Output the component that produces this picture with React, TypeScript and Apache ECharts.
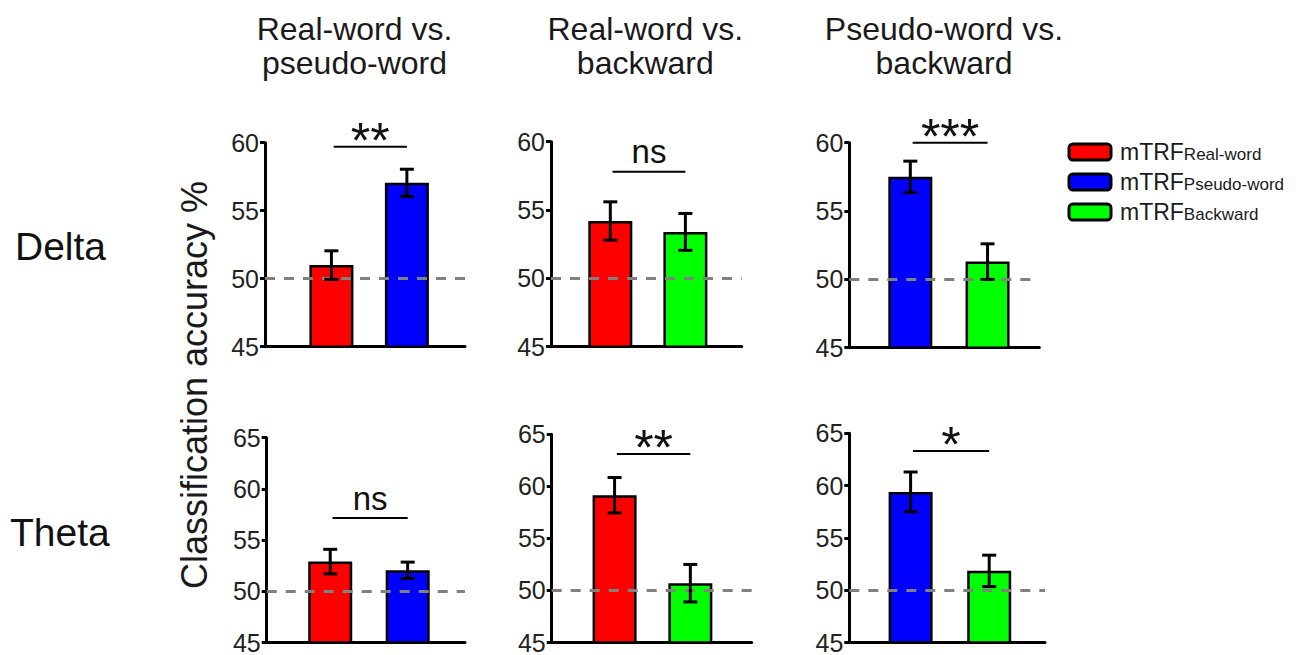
import React, { useEffect, useRef } from 'react';
import * as echarts from 'echarts';

// ---------- data ----------
const conditions = ['Real-word', 'Pseudo-word', 'Backward'];
const conditionColors = ['#ff0000', '#0000ff', '#00ff00'];

const panelTitles = [
  ['Real-word vs.', 'pseudo-word'],
  ['Real-word vs.', 'backward'],
  ['Pseudo-word vs.', 'backward'],
];
const bandNames = ['Delta', 'Theta'];
const yAxisTitle = 'Classification accuracy %';
const yMinValue = 45;
const yMaxByBand = [60, 65];
const yTickStep = 5;
const chanceLevel = 50;

// panel order: Delta (3 contrasts), then Theta (3 contrasts)
const panelConditions = [[0, 1], [0, 2], [1, 2], [0, 1], [0, 2], [1, 2]];
const meanValues = [
  [51.0, 57.05],
  [54.2, 53.4],
  [57.5, 51.3],
  [52.9, 52.05],
  [59.15, 50.7],
  [59.4, 51.85],
];
const semValues = [
  [1.05, 1.0],
  [1.4, 1.35],
  [1.15, 1.3],
  [1.2, 0.8],
  [1.7, 1.8],
  [1.9, 1.5],
];
const sigLabels = ['**', 'ns', '***', 'ns', '**', '*'];
const sigHeights = [59.7, 57.8, 60.0, 57.15, 63.1, 63.3];

// ---------- layout (pixels) ----------
const panelBoxes = [
  { left: 265, top: 142.7, width: 200, height: 204, xMin: -0.88, xMax: 1.77 },
  { left: 551, top: 141.7, width: 190.7, height: 205, xMin: -0.79, xMax: 1.75 },
  { left: 849.3, top: 142.7, width: 190, height: 205, xMin: -0.79, xMax: 1.67 },
  { left: 266.7, top: 437.7, width: 198.3, height: 209.6, xMin: -0.82, xMax: 1.74 },
  { left: 551.7, top: 434.3, width: 200, height: 210.7, xMin: -0.83, xMax: 1.81 },
  { left: 849.3, top: 433.3, width: 195.7, height: 211.7, xMin: -0.78, xMax: 1.71 },
];
const titleCenters = [354.5, 645.3, 944];
const FONT = '"Liberation Sans", Arial, Helvetica, sans-serif';
const TEXT = '#1a1a1a';

export default function App() {
  const ref = useRef<HTMLDivElement>(null);

  useEffect(() => {
    document.body.style.margin = '0';
    if (!ref.current) return;
    const chart = echarts.init(ref.current, null, { renderer: 'svg' });

    const grids: any[] = [];
    const xAxes: any[] = [];
    const yAxes: any[] = [];
    const series: any[] = [];

    panelBoxes.forEach((b, p) => {
      const band = p < 3 ? 0 : 1;
      grids.push({ left: b.left, top: b.top, width: b.width, height: b.height, containLabel: false });
      xAxes.push({
        type: 'value',
        gridIndex: p,
        min: b.xMin,
        max: b.xMax,
        axisLine: { show: true, onZero: false, lineStyle: { color: '#000', width: 3 } },
        axisTick: { show: false },
        axisLabel: { show: false },
        splitLine: { show: false },
      });
      yAxes.push({
        type: 'value',
        gridIndex: p,
        min: yMinValue,
        max: yMaxByBand[band],
        interval: yTickStep,
        axisLine: { show: true, onZero: false, lineStyle: { color: '#000', width: 3 } },
        axisTick: { show: true, length: 5, lineStyle: { color: '#000', width: 3 } },
        axisLabel: { show: true, fontSize: 25, color: '#222', fontFamily: FONT, margin: 6 },
        splitLine: { show: false },
      });

      panelConditions[p].forEach((c, k) => {
        const s: any = {
          type: 'bar',
          name: conditions[c],
          xAxisIndex: p,
          yAxisIndex: p,
          data: [[k, meanValues[p][k]]],
          barWidth: 44,
          barGap: '-100%',
          clip: true,
          silent: true,
          itemStyle: { color: conditionColors[c], borderColor: '#000', borderWidth: 2.5 },
        };
        if (k === 1) {
          s.markLine = {
            silent: true,
            symbol: ['none', 'none'],
            z: 10,
            label: { show: false },
            lineStyle: { color: '#808080', type: [10, 9], width: 3 },
            data: [{ yAxis: chanceLevel }],
          };
        }
        series.push(s);
      });

      series.push({
        type: 'custom',
        xAxisIndex: p,
        yAxisIndex: p,
        z: 12,
        silent: true,
        data: meanValues[p].map((m, k) => [k, m - semValues[p][k], m + semValues[p][k]]),
        encode: { x: 0, y: [1, 2] },
        renderItem: (params: any, api: any) => {
          const x = api.value(0);
          const top = api.coord([x, api.value(2)]);
          const bot = api.coord([x, api.value(1)]);
          const cap = 7;
          const st = { stroke: '#000', lineWidth: 3 };
          return {
            type: 'group',
            children: [
              { type: 'line', shape: { x1: top[0], y1: top[1], x2: bot[0], y2: bot[1] }, style: st },
              { type: 'line', shape: { x1: top[0] - cap, y1: top[1], x2: top[0] + cap, y2: top[1] }, style: st },
              { type: 'line', shape: { x1: bot[0] - cap, y1: bot[1], x2: bot[0] + cap, y2: bot[1] }, style: st },
            ],
          };
        },
      });

      const label = sigLabels[p];
      const isStar = label.indexOf('*') >= 0;
      series.push({
        type: 'custom',
        xAxisIndex: p,
        yAxisIndex: p,
        z: 12,
        silent: true,
        clip: false,
        data: [[0.03, 1.0, sigHeights[p]]],
        encode: { x: [0, 1], y: 2 },
        renderItem: (params: any, api: any) => {
          const a = api.coord([api.value(0), api.value(2)]);
          const bEnd = api.coord([api.value(1), api.value(2)]);
          const cx = (a[0] + bEnd[0]) / 2;
          return {
            type: 'group',
            children: [
              { type: 'line', shape: { x1: a[0], y1: a[1], x2: bEnd[0], y2: bEnd[1] }, style: { stroke: '#000', lineWidth: 2 } },
              {
                type: 'text',
                x: cx,
                y: a[1] - (isStar ? 6 : 20),
                style: {
                  text: label,
                  fontSize: isStar ? 50 : 33,
                  fontFamily: FONT,
                  fill: '#111',
                  align: 'center',
                  verticalAlign: 'middle',
                },
              },
            ],
          };
        },
      });
    });

    const graphics: any[] = [];
    panelTitles.forEach((lines, i) => {
      lines.forEach((t, j) => {
        graphics.push({
          type: 'text',
          x: titleCenters[i],
          y: j === 0 ? 29 : 63,
          style: {
            text: t,
            fontSize: 32,
            fontFamily: FONT,
            fill: TEXT,
            align: 'center',
            verticalAlign: 'middle',
          },
        });
      });
    });
    const bandY = [246, 532];
    const bandX = [15, 10];
    bandNames.forEach((n, i) => {
      graphics.push({
        type: 'text',
        x: bandX[i],
        y: bandY[i],
        style: { text: n, fontSize: 39, fontFamily: FONT, fill: '#111', align: 'left', verticalAlign: 'middle' },
      });
    });
    graphics.push({
      type: 'text',
      x: 194,
      y: 385,
      rotation: Math.PI / 2,
      style: { text: yAxisTitle, fontSize: 36, fontFamily: FONT, fill: TEXT, align: 'center', verticalAlign: 'middle' },
    });

    chart.setOption({
      animation: false,
      backgroundColor: '#fff',
      grid: grids,
      xAxis: xAxes,
      yAxis: yAxes,
      series,
      graphic: graphics,
      legend: {
        data: conditions,
        orient: 'vertical',
        left: 1067.5,
        top: 140,
        padding: 0,
        itemWidth: 42,
        itemHeight: 16,
        itemGap: 7,
        selectedMode: false,
        icon: 'roundRect',
        itemStyle: { borderColor: '#000', borderWidth: 3 },
        formatter: (name: string) => `{m|mTRF}{s|${name}}`,
        textStyle: {
          color: TEXT,
          fontFamily: FONT,
          rich: {
            m: { fontSize: 23, lineHeight: 22, fontFamily: FONT, color: TEXT, padding: [0, 0, 0, 4], verticalAlign: 'bottom' },
            s: { fontSize: 17, lineHeight: 22, fontFamily: FONT, color: TEXT, verticalAlign: 'bottom' },
          },
        },
      },
    });

    return () => chart.dispose();
  }, []);

  return <div ref={ref} style={{ width: 1312, height: 655 }} />;
}
